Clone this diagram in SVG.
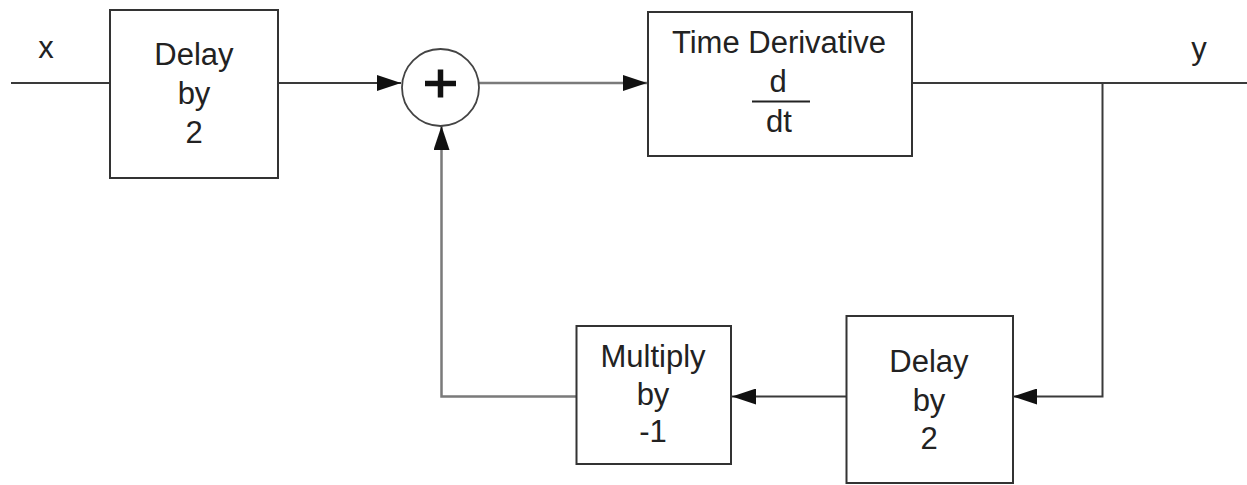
<svg xmlns="http://www.w3.org/2000/svg" width="1247" height="485" viewBox="0 0 1247 485">
  <style>
    .box { fill: #ffffff; stroke: #333333; stroke-width: 2; }
    .lbl { font-family: "Liberation Sans", Arial, sans-serif; font-size: 31px; fill: #222222; text-anchor: middle; }
    .wire { fill: none; stroke: #3a3a3a; stroke-width: 2; }
    .wire2 { fill: none; stroke: #7a7a7a; stroke-width: 2.5; }
  </style>
  <defs>
    <marker id="arr" viewBox="0 0 24 16" refX="24" refY="8" markerWidth="24" markerHeight="16" markerUnits="userSpaceOnUse" orient="auto">
      <path d="M0,0 L24,8 L0,16 Z" fill="#111111"/>
    </marker>
  </defs>
  <rect width="1247" height="485" fill="#ffffff"/>

  <g id="connectors">
    <line class="wire" x1="11" y1="83" x2="110" y2="83"/>
    <line class="wire" x1="278" y1="83" x2="401" y2="83" marker-end="url(#arr)"/>
    <line class="wire2" x1="479" y1="83" x2="647" y2="83" marker-end="url(#arr)"/>
    <line class="wire" x1="912" y1="83" x2="1247" y2="83"/>
    <polyline class="wire" points="1102.5,83 1102.5,396.5 1013,396.5" marker-end="url(#arr)"/>
    <line class="wire" x1="846" y1="396.5" x2="732" y2="396.5" marker-end="url(#arr)"/>
    <polyline class="wire2" points="576,396.5 441.5,396.5 441.5,126" marker-end="url(#arr)"/>
  </g>

  <g id="label-x">
    <text class="lbl" x="46" y="58">x</text>
  </g>
  <g id="label-y">
    <text class="lbl" x="1199" y="59">y</text>
  </g>

  <g id="delay1">
    <rect class="box" x="110" y="10" width="168" height="168"/>
    <text class="lbl" x="194" y="65">Delay</text>
    <text class="lbl" x="194" y="104">by</text>
    <text class="lbl" x="194" y="143">2</text>
  </g>

  <g id="sum">
    <circle cx="440.5" cy="87.5" r="38.5" fill="#ffffff" stroke="#444444" stroke-width="1.8"/>
    <path d="M425,83.5 H456 M440.5,69.5 V97.5" stroke="#111111" stroke-width="5.5" fill="none"/>
  </g>

  <g id="derivative">
    <rect class="box" x="648" y="12" width="264" height="144"/>
    <text class="lbl" x="779" y="53">Time Derivative</text>
    <text class="lbl" x="778" y="91.5">d</text>
    <line x1="752" y1="101.5" x2="810" y2="101.5" stroke="#222222" stroke-width="2"/>
    <text class="lbl" x="779" y="131.5">dt</text>
  </g>

  <g id="delay2">
    <rect class="box" x="846.5" y="316" width="166.5" height="167"/>
    <text class="lbl" x="929" y="371.5">Delay</text>
    <text class="lbl" x="929" y="410.5">by</text>
    <text class="lbl" x="929" y="449">2</text>
  </g>

  <g id="multiply">
    <rect class="box" x="576.5" y="326" width="154.5" height="138"/>
    <text class="lbl" x="653" y="366.5">Multiply</text>
    <text class="lbl" x="653" y="404.5">by</text>
    <text class="lbl" x="653" y="442">-1</text>
  </g>
</svg>
